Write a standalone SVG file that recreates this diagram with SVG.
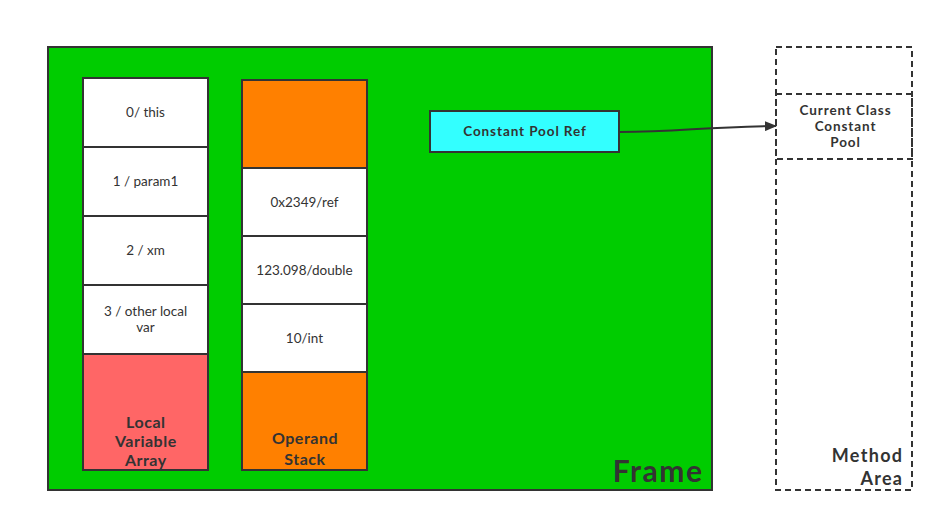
<svg xmlns="http://www.w3.org/2000/svg" width="944" height="522" viewBox="0 0 944 522">
<defs>
<style>
.b{stroke:#333;stroke-width:2}
.d{stroke:#333;stroke-width:2;stroke-dasharray:6 4;fill:none}
.t{font-family:Lato,"Open Sans",sans-serif;font-size:13.5px;fill:#333;text-anchor:middle}
.tb{font-family:Lato,"Open Sans",sans-serif;font-size:13.5px;font-weight:bold;fill:#333;text-anchor:middle;letter-spacing:0.9px}
.lb{font-family:Lato,"Open Sans",sans-serif;font-size:16px;font-weight:bold;fill:#333;text-anchor:middle;letter-spacing:0.5px}
.big{font-family:Lato,"Open Sans",sans-serif;font-weight:bold;fill:#333;text-anchor:end}
</style>
<marker id="ah" markerWidth="12" markerHeight="10" refX="11" refY="5" orient="auto" markerUnits="userSpaceOnUse">
<path d="M0,0 L12,5 L0,10 Z" fill="#333"/>
</marker>
</defs>
<rect width="944" height="522" fill="#fff"/>
<g id="frame">
<rect class="b" x="48" y="47" width="664" height="443" fill="#00CC00"/>
<text class="big" x="703.500" y="482" font-size="30" letter-spacing="1.5">Frame</text>
</g>
<g id="method-area">
<rect class="d" x="776" y="47" width="136" height="443"/>
<text class="big" x="903.300" y="462" font-size="18" letter-spacing="1.3">Method</text>
<text class="big" x="903.300" y="485" font-size="18" letter-spacing="1.3">Area</text>
</g>
<g id="constant-pool">
<rect class="d" x="776" y="94" width="136" height="65" fill="#fff"/>
<text class="tb" x="845.500" y="115">Current Class</text>
<text class="tb" x="845.500" y="131">Constant</text>
<text class="tb" x="845.500" y="147">Pool</text>
</g>
<g id="lv0"><rect class="b" x="83" y="78" width="125" height="69" fill="#fff"/><text class="t" x="145.500" y="117">0/ this</text></g>
<g id="lv1"><rect class="b" x="83" y="147" width="125" height="69" fill="#fff"/><text class="t" x="145.500" y="186">1 / param1</text></g>
<g id="lv2"><rect class="b" x="83" y="216" width="125" height="69" fill="#fff"/><text class="t" x="145.500" y="255">2 / xm</text></g>
<g id="lv3"><rect class="b" x="83" y="285" width="125" height="69" fill="#fff"/><text class="t" x="145.500" y="316">3 / other local</text><text class="t" x="145.500" y="332">var</text></g>
<g id="lva"><rect class="b" x="83" y="354" width="125" height="116" fill="#FF6666"/><text class="lb" x="145.800" y="428">Local</text><text class="lb" x="145.800" y="447">Variable</text><text class="lb" x="145.800" y="466">Array</text></g>
<g id="os-top"><rect class="b" x="242" y="80" width="125" height="88" fill="#FF8000"/></g>
<g id="os1"><rect class="b" x="242" y="168" width="125" height="68" fill="#fff"/><text class="t" x="304.500" y="207">0x2349/ref</text></g>
<g id="os2"><rect class="b" x="242" y="236" width="125" height="68" fill="#fff"/><text class="t" x="304.500" y="275">123.098/double</text></g>
<g id="os3"><rect class="b" x="242" y="304" width="125" height="68" fill="#fff"/><text class="t" x="304.500" y="343">10/int</text></g>
<g id="os"><rect class="b" x="242" y="372" width="125" height="98" fill="#FF8000"/><text class="lb" x="305" y="444" font-size="17" letter-spacing="1">Operand</text><text class="lb" x="305" y="464.500" font-size="17" letter-spacing="1">Stack</text></g>
<g id="cpref"><rect class="b" x="430" y="111" width="189" height="41" fill="#33FFFF"/><text class="tb" x="525" y="136" font-size="14" letter-spacing="1">Constant Pool Ref</text></g>
<g id="connectors">
<path d="M619,132 C680,132 700,127 776,126" fill="none" stroke="#333" stroke-width="2" marker-end="url(#ah)"/>
</g>
</svg>
